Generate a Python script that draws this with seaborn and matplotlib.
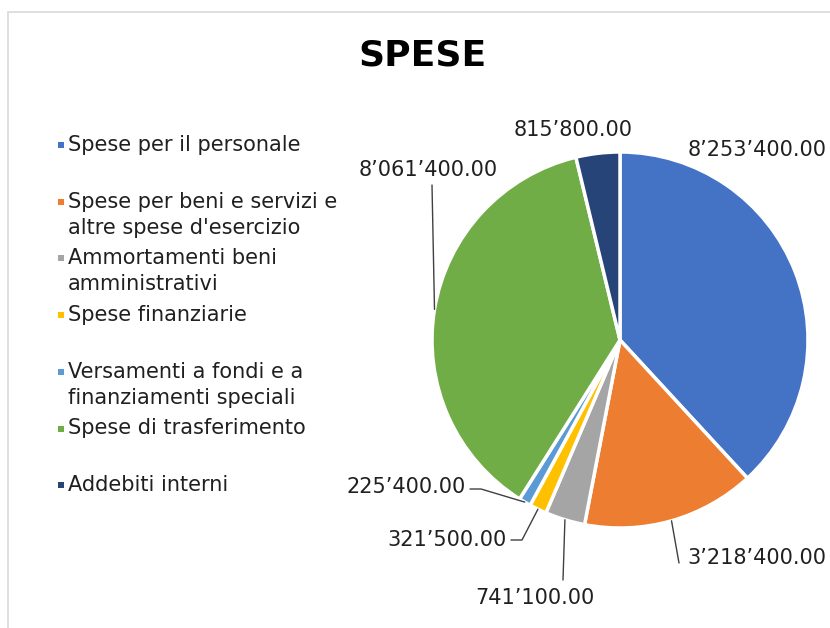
import matplotlib
matplotlib.use("Agg")
import matplotlib.pyplot as plt
from matplotlib.patches import Rectangle
import numpy as np
import seaborn as sns

# --- data ---
categories = [
    "Spese per il personale",
    "Spese per beni e servizi e\naltre spese d'esercizio",
    "Ammortamenti beni\namministrativi",
    "Spese finanziarie",
    "Versamenti a fondi e a\nfinanziamenti speciali",
    "Spese di trasferimento",
    "Addebiti interni",
]
values = [8253400, 3218400, 741100, 321500, 225400, 8061400, 815800]
value_labels = ["8’253’400.00", "3’218’400.00", "741’100.00", "321’500.00",
                "225’400.00", "8’061’400.00", "815’800.00"]
colors = ["#4472C4", "#ED7D31", "#A5A5A5", "#FFC000", "#5B9BD5", "#70AD47", "#264478"]

W, H = 830, 628

# label layout in image pixels: (x, y, ha, leader points between slice edge and text)
label_layout = [
    (757, 150, "center", None),
    (687, 558, "left", [(679, 563)]),
    (535, 598, "center", [(563, 580)]),
    (507, 540, "right", [(522, 540), (511, 540)]),
    (466, 487, "right", [(481, 489), (470, 489)]),
    (428, 170, "center", [(432, 185)]),
    (573, 130, "center", None),
]


def px(x, y):
    """image pixel (y down) -> axes data (y up)"""
    return x, H - y


sns.set_theme(style="white")
plt.rcParams["font.family"] = ["DejaVu Sans"]

fig = plt.figure(figsize=(W / 100, H / 100), dpi=100)
ax = fig.add_axes([0, 0, 1, 1])

center = px(620, 340)
radius = 188
wedges, _ = ax.pie(values, colors=colors, startangle=90, counterclock=False,
                   center=center, radius=radius,
                   wedgeprops=dict(edgecolor="white", linewidth=2.5))
ax.set_xlim(0, W)
ax.set_ylim(0, H)
ax.set_aspect("auto")
ax.axis("off")

# chart frame (runs off the right/bottom like the screenshot)
ax.add_patch(Rectangle(px(8, 700), 900, 688, fill=False, edgecolor="#d9d9d9",
                       linewidth=1.2, zorder=0))

ax.text(*px(422, 56), "SPESE", fontsize=26, fontweight="bold",
        ha="center", va="center", color="black")

# data labels with leader lines
for w, txt, (tx, ty, ha, leader) in zip(wedges, value_labels, label_layout):
    mid = np.deg2rad((w.theta1 + w.theta2) / 2)
    ex = center[0] + radius * np.cos(mid)
    ey = center[1] + radius * np.sin(mid)
    if leader:
        pts = [(ex, ey)] + [px(x, y) for x, y in leader]
        xs, ys = zip(*pts)
        ax.plot(xs, ys, color="#404040", lw=1.0)
    ax.text(*px(tx, ty), txt, fontsize=15, ha=ha, va="center", color="#202020")

# legend on the left
for i, (name, c) in enumerate(zip(categories, colors)):
    y0 = 145 + 56.7 * i
    ax.scatter(*px(61, y0), marker="s", s=24, color=c, linewidths=0)
    for k, line in enumerate(name.split("\n")):
        ax.text(*px(68, y0 + 26 * k), line, fontsize=15, ha="left",
                va="center", color="#202020")

fig.savefig("out.png", dpi=100)
